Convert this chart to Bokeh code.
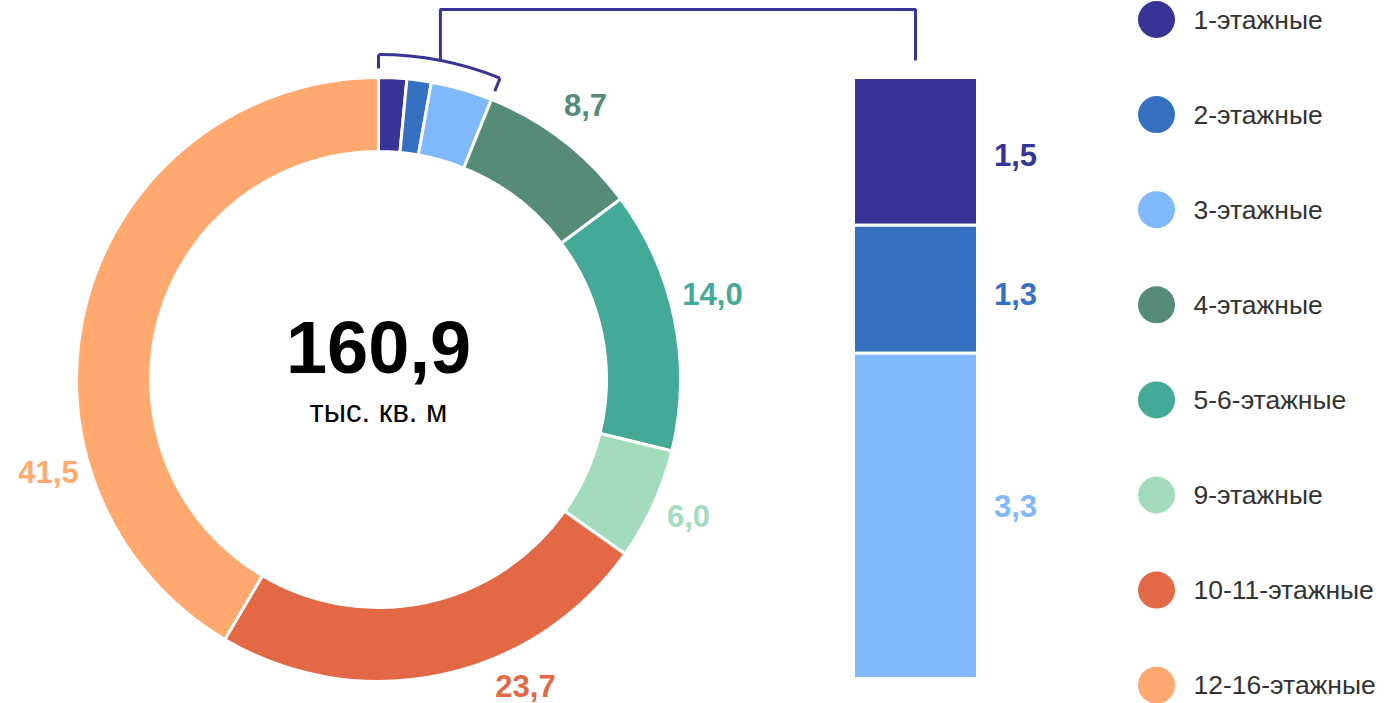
import math
from bokeh.plotting import figure
from bokeh.models import Range1d, ColumnDataSource
from bokeh.core.properties import value
from bokeh.embed import file_html
from bokeh.resources import INLINE

# ---------------- data ----------------
categories = ["1-этажные", "2-этажные", "3-этажные", "4-этажные",
              "5-6-этажные", "9-этажные", "10-11-этажные", "12-16-этажные"]
shares = [1.5, 1.3, 3.3, 8.7, 14.0, 6.0, 23.7, 41.5]
share_labels = ["1,5", "1,3", "3,3", "8,7", "14,0", "6,0", "23,7", "41,5"]
colors = ["#373495", "#3671c1", "#80b9fb", "#568b78",
          "#45a998", "#a2dcbd", "#e36846", "#ffa970"]
total_value = "160,9"
total_unit = "тыс. кв. м"
detail_count = 3  # first slices broken out into the stacked bar

# ---------------- layout (screen pixels) ----------------
FONT = value("Liberation Sans")
W, H = 1399, 703
CX, CY = 378, 379          # donut centre
R_OUT, R_IN = 302, 228
BR_R, BR_TICK = 325, 311    # bracket arc radius / tick inner radius
BAR_L, BAR_R, BAR_TOP, BAR_BOT = 853, 977, 77, 678
LEG_X, LEG_TX, LEG_Y0, LEG_DY = 1156, 1193, 19, 95.1
donut_label_pos = {3: (585, 104), 4: (712, 293), 5: (688, 515), 6: (525, 685), 7: (48, 471)}
bar_label_x = 1015
bar_label_y = [154, 293, 505]


def Y(s):
    return H - s


p = figure(width=W, height=H, x_range=Range1d(0, W), y_range=Range1d(0, H),
           output_backend="svg", toolbar_location=None, min_border=0,
           x_axis_type=None, y_axis_type=None)
p.grid.visible = False
p.outline_line_color = None
p.background_fill_color = "white"

total = sum(shares)
cum = [0.0]
for v in shares:
    cum.append(cum[-1] + v)
th0 = [2 * math.pi * cum[i] / total for i in range(len(shares))]
th1 = [2 * math.pi * cum[i + 1] / total for i in range(len(shares))]

src = ColumnDataSource(dict(
    x=[CX] * len(shares), y=[Y(CY)] * len(shares),
    start=[math.pi / 2 - t for t in th1], end=[math.pi / 2 - t for t in th0],
    color=colors))
p.annular_wedge(x="x", y="y", inner_radius=R_IN, outer_radius=R_OUT,
                start_angle="start", end_angle="end", fill_color="color",
                line_color="white", line_width=3, source=src)

# centre texts
p.text(x=[CX], y=[Y(346)], text=[total_value], text_font=FONT, text_font_size="74px",
       text_font_style="bold", text_color="black", text_align="center", text_baseline="middle")
p.text(x=[CX], y=[Y(411)], text=[total_unit], text_font=FONT, text_font_size="31px",
       text_color="black", text_align="center", text_baseline="middle")

# donut value labels
for i, (lx, ly) in donut_label_pos.items():
    p.text(x=[lx], y=[Y(ly)], text=[share_labels[i]], text_font=FONT, text_font_size="31px",
           text_font_style="bold", text_color=colors[i], text_align="center", text_baseline="middle")

# bracket over the broken-out slices
bc = "#373495"
tb = th1[detail_count - 1]
p.arc(x=[CX], y=[Y(CY)], radius=BR_R, start_angle=math.pi / 2 - tb, end_angle=math.pi / 2,
      line_color=bc, line_width=3)
for t in (0.0, tb):
    p.line(x=[CX + BR_R * math.sin(t), CX + BR_TICK * math.sin(t)],
           y=[Y(CY - BR_R * math.cos(t)), Y(CY - BR_TICK * math.cos(t))],
           line_color=bc, line_width=3)
tm = tb / 2
bar_cx = (BAR_L + BAR_R) / 2
p.line(x=[CX + BR_R * math.sin(tm), CX + BR_R * math.sin(tm), bar_cx, bar_cx],
       y=[Y(CY - BR_R * math.cos(tm)), Y(9), Y(9), Y(60)],
       line_color=bc, line_width=3)

# stacked bar of the small categories
sub = shares[:detail_count]
k = (BAR_BOT - BAR_TOP) / sum(sub)
c = 0.0
tops, bots = [], []
for v in sub:
    tops.append(Y(BAR_TOP + c * k))
    c += v
    bots.append(Y(BAR_TOP + c * k))
p.quad(left=[BAR_L] * detail_count, right=[BAR_R] * detail_count, top=tops, bottom=bots,
       fill_color=colors[:detail_count], line_color="white", line_width=3)
for i in range(detail_count):
    p.text(x=[bar_label_x], y=[Y(bar_label_y[i])], text=[share_labels[i]], text_font=FONT,
           text_font_size="31px", text_font_style="bold", text_color=colors[i],
           text_align="center", text_baseline="middle")

# legend
ly = [Y(LEG_Y0 + LEG_DY * i) for i in range(len(categories))]
p.scatter(x=[LEG_X] * len(categories), y=ly, size=37, fill_color=colors, line_color=None)
p.text(x=[LEG_TX] * len(categories), y=ly, text=categories, text_font=FONT,
       text_font_size="26.5px", text_color="#333333", text_align="left", text_baseline="middle")

open("out.html", "w").write(file_html(p, INLINE))
